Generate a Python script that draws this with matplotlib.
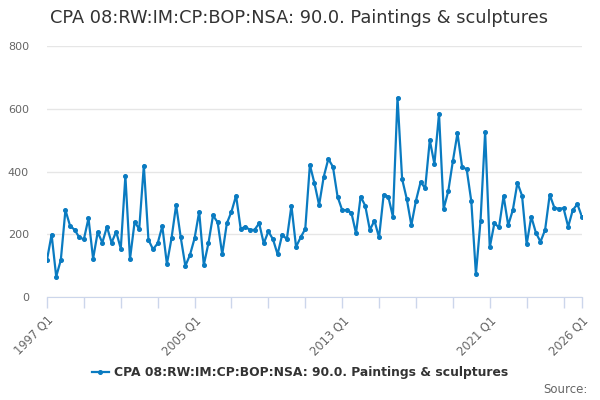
import matplotlib
matplotlib.use("Agg")
import matplotlib.pyplot as plt
from matplotlib.lines import Line2D

title = "CPA 08:RW:IM:CP:BOP:NSA: 90.0. Paintings & sculptures"
series_name = "CPA 08:RW:IM:CP:BOP:NSA: 90.0. Paintings & sculptures"

start_year = 1997
values = [
    118, 199, 65, 118, 277, 227, 214, 190, 184, 251, 122, 207, 173, 224, 173, 208,
    154, 386, 121, 239, 217, 419, 182, 152, 171, 226, 105, 187, 293, 190, 99, 134,
    187, 272, 102, 171, 260, 238, 136, 235, 272, 323, 217, 224, 214, 214, 235, 171,
    209, 184, 136, 199, 184, 291, 160, 190, 217, 421, 362, 293, 383, 440, 415, 320,
    277, 277, 269, 203, 320, 291, 214, 243, 190, 326, 320, 256, 635, 376, 313, 229,
    307, 366, 347, 500, 424, 584, 281, 337, 433, 522, 415, 407, 305, 73, 243, 526,
    158, 235, 222, 322, 229, 277, 364, 323, 168, 256, 205, 176, 214, 326, 285, 281,
    283, 224, 277, 296, 255,
]
labels = [f"{start_year + i // 4} Q{i % 4 + 1}" for i in range(len(values))]
label_ticks = ["1997 Q1", "2005 Q1", "2013 Q1", "2021 Q1", "2026 Q1"]
y_ticks = [0, 200, 400, 600, 800]

color = "#0a7bc1"

fig = plt.figure(figsize=(6, 4), dpi=100)
ax = fig.add_axes([0.0783, 0.2575, 0.8917, 0.6275])

x = list(range(len(values)))
ax.plot(x, values, color=color, lw=1.6, marker="o", ms=2.6, zorder=3)

ax.set_xlim(0, len(values) - 1)
ax.set_ylim(0, 800)
ax.set_yticks(y_ticks)
ax.set_yticklabels([str(v) for v in y_ticks])
ax.grid(axis="y", color="#e6e6e6", lw=1)
ax.set_axisbelow(True)

# x ticks every 8 quarters plus the last one
minor = list(range(0, len(values), 8))
if (len(values) - 1) not in minor:
    minor.append(len(values) - 1)
ax.set_xticks(minor)
ax.set_xticklabels([labels[i] if labels[i] in label_ticks else "" for i in minor],
                   rotation=45, ha="right", rotation_mode="anchor")

for s in ["top", "right", "left"]:
    ax.spines[s].set_visible(False)
ax.spines["bottom"].set_color("#ccd6eb")
ax.tick_params(axis="x", colors="#ccd6eb", length=8, width=1, labelcolor="#666666",
               labelsize=8.3, pad=4)
ax.tick_params(axis="y", length=0, labelcolor="#666666", labelsize=8, pad=13)

fig.text(0.083, 0.955, title, fontsize=12.8, color="#333333", ha="left", va="center")

handle = Line2D([0], [0], color=color, lw=1.6, marker="o", ms=2.6)
fig.legend([handle], [series_name], loc="center", bbox_to_anchor=(0.5, 0.068),
           frameon=False, prop={"size": 8.9, "weight": "bold"}, labelcolor="#333333",
           handlelength=1.4, handletextpad=0.4)

fig.text(0.98, 0.027, "Source:", fontsize=8.5, color="#666666", ha="right", va="center")

fig.savefig("out.png", dpi=100)
